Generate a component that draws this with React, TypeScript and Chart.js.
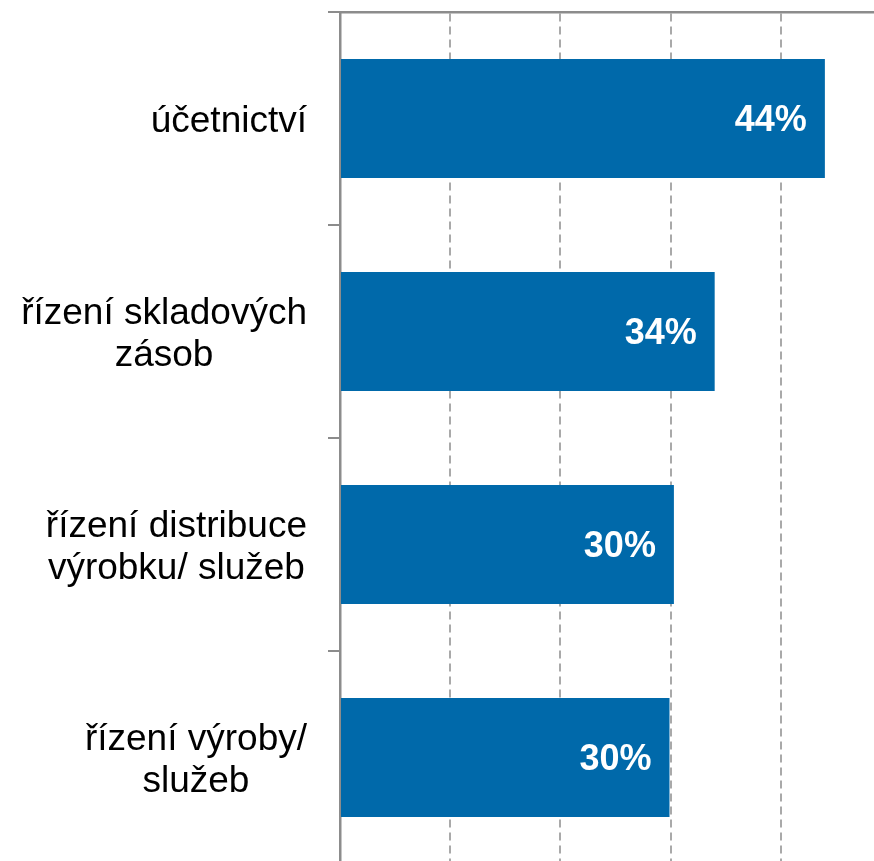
import React, { useEffect, useRef } from "react";
import { Chart, registerables } from "chart.js";

Chart.register(...registerables);

const categories: string[][] = [
  ["účetnictví"],
  ["řízení skladových", "zásob"],
  ["řízení distribuce", "výrobku/ služeb"],
  ["řízení výroby/", "služeb"],
];
const values: number[] = [44, 34, 30.3, 29.9];
const valueLabels: string[] = ["44%", "34%", "30%", "30%"];
const xMin = 0;
const xMax = 50;
const xStep = 10;

const FONT = '"Liberation Sans", Arial, sans-serif';

const labelPlugin = {
  id: "customLabels",
  afterDraw(chart: any) {
    const ctx = chart.ctx as CanvasRenderingContext2D;
    const yScale = chart.scales.y;
    ctx.save();
    ctx.font = `37px ${FONT}`;
    ctx.fillStyle = "#000000";
    ctx.textAlign = "center";
    ctx.textBaseline = "alphabetic";
    const lineH = 42;
    const cap = 13;
    const right = yScale.right - 33;
    categories.forEach((lines, i) => {
      const cy = yScale.getPixelForValue(i);
      const maxW = Math.max(...lines.map((l) => ctx.measureText(l).width));
      const cx = right - maxW / 2;
      const first = cy - ((lines.length - 1) * lineH) / 2 + cap;
      lines.forEach((l, j) => ctx.fillText(l, cx, first + j * lineH));
    });
    const meta = chart.getDatasetMeta(0);
    ctx.font = `bold 36px ${FONT}`;
    ctx.fillStyle = "#ffffff";
    ctx.textAlign = "right";
    meta.data.forEach((bar: any, i: number) => {
      ctx.fillText(valueLabels[i], bar.x - 18, bar.y + 12.5);
    });
    ctx.restore();
  },
};

export default function App() {
  const ref = useRef<HTMLCanvasElement>(null);
  useEffect(() => {
    if (!ref.current) return;
    const chart = new Chart(ref.current, {
      type: "bar",
      data: {
        labels: categories.map((c) => c.join(" ")),
        datasets: [
          {
            data: values,
            backgroundColor: "#0069AA",
            borderWidth: 0,
            barPercentage: 119 / 213,
            categoryPercentage: 1,
          },
        ],
      },
      options: {
        indexAxis: "y",
        animation: false,
        responsive: false,
        devicePixelRatio: 1,
        layout: { padding: { left: 0, top: 0, right: 9, bottom: 16 } },
        plugins: {
          legend: { display: false },
          tooltip: { enabled: false },
        },
        scales: {
          x: {
            position: "top",
            min: xMin,
            max: xMax,
            ticks: { display: false, stepSize: xStep },
            grid: {
              drawTicks: false,
              lineWidth: 2,
              color: (c: any) =>
                c.tick && c.tick.value === 0 ? "rgba(0,0,0,0)" : "#a9a9a9",
            },
            border: { display: true, color: "#8c8c8c", width: 2.5, dash: [8, 5] },
            afterFit: (s: any) => {
              s.height = 12;
            },
          },
          y: {
            offset: true,
            ticks: { display: false },
            grid: {
              offset: true,
              drawOnChartArea: false,
              drawTicks: true,
              tickLength: 12,
              lineWidth: 2,
              color: "#8c8c8c",
            },
            border: { display: true, color: "#8c8c8c", width: 2.5 },
            afterFit: (s: any) => {
              s.width = 340;
            },
          },
        },
      },
      plugins: [labelPlugin],
    } as any);
    return () => chart.destroy();
  }, []);
  return (
    <div
      style={{
        position: "fixed",
        left: 0,
        top: 0,
        width: 874,
        height: 861,
        overflow: "hidden",
        background: "#ffffff",
      }}
    >
      <canvas
        ref={ref}
        width={900}
        height={880}
        style={{ display: "block", width: 900, height: 880 }}
      />
    </div>
  );
}
